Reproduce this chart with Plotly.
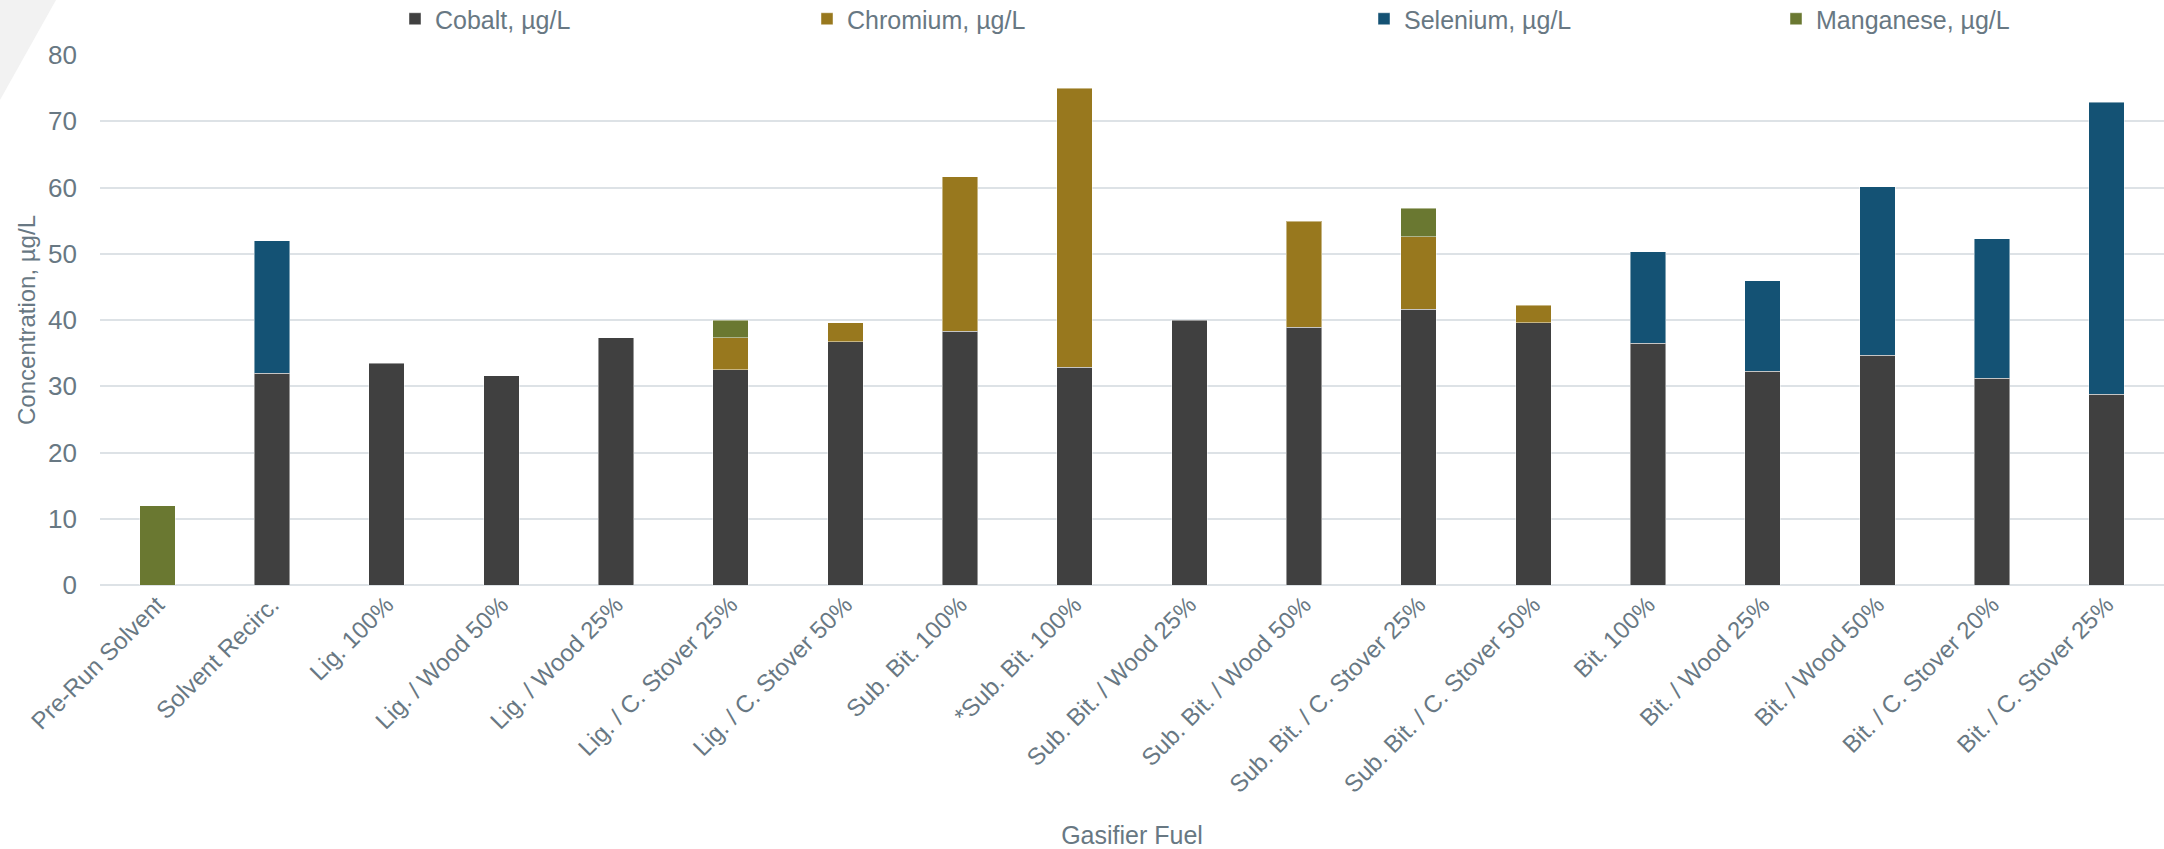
import plotly.graph_objects as go

categories = ["Pre-Run Solvent", "Solvent Recirc.", "Lig. 100%", "Lig. / Wood 50%", "Lig. / Wood 25%",
              "Lig. / C. Stover 25%", "Lig. / C. Stover 50%", "Sub. Bit. 100%", "*Sub. Bit. 100%",
              "Sub. Bit. / Wood 25%", "Sub. Bit. / Wood 50%", "Sub. Bit. / C. Stover 25%",
              "Sub. Bit. / C. Stover 50%", "Bit. 100%", "Bit. / Wood 25%", "Bit. / Wood 50%",
              "Bit. / C. Stover 20%", "Bit. / C. Stover 25%"]

cobalt = [None, 32.0, 33.5, 31.6, 37.3, 32.5, 36.7, 38.3, 32.9, 40.0, 38.9, 41.6, 39.6, 36.5, 32.3, 34.7, 31.2, 28.8]
chromium = [None, None, None, None, None, 4.8, 2.9, 23.3, 42.1, None, 16.0, 11.0, 2.6, None, None, None, None, None]
selenium = [None, 20.0, None, None, None, None, None, None, None, None, None, None, None, 13.8, 13.6, 25.4, 21.1, 44.1]
manganese = [12.0, None, None, None, None, 2.7, None, None, None, None, None, 4.3, None, None, None, None, None, None]

series = [
    ("Cobalt, µg/L", cobalt, "#404040", "legend"),
    ("Chromium, µg/L", chromium, "#98781E", "legend"),
    ("Selenium, µg/L", selenium, "#145274", "legend2"),
    ("Manganese, µg/L", manganese, "#6A7831", "legend2"),
]

TXT = "#687883"
FONT = "Liberation Sans, Arial, sans-serif"

fig = go.Figure()
for name, vals, col, lg in series:
    fig.add_trace(go.Bar(
        name=name, x=categories, y=vals, legend=lg,
        marker=dict(color=col, line=dict(color="rgba(255,255,255,0.45)", width=1)),
    ))

W, H = 2164, 849
ML, MR, MT, MB = 100, 0, 55, 264
pw = W - ML - MR
ph = H - MT - MB

def px_x(px):
    return (px - ML) / pw

def px_y(py):
    return (H - MB - py) / ph

fig.add_shape(
    type="path",
    xref="paper", yref="paper",
    path=f"M {px_x(0)} {px_y(0)} L {px_x(56)} {px_y(0)} L {px_x(0)} {px_y(100)} Z",
    fillcolor="#F2F2F2", line=dict(width=0), layer="below",
)

legend_common = dict(
    orientation="h", xanchor="left", xref="container",
    yref="container", y=1 - 19 / H, yanchor="middle",
    entrywidth=367, entrywidthmode="pixels",
    font=dict(size=25, color=TXT, family=FONT),
    traceorder="normal", bgcolor="rgba(0,0,0,0)",
)

fig.update_layout(
    width=W, height=H,
    margin=dict(l=ML, r=MR, t=MT, b=MB, autoexpand=False),
    paper_bgcolor="white", plot_bgcolor="white",
    barmode="stack", bargap=0.69,
    font=dict(family=FONT, color=TXT, size=22),
    showlegend=True,
    legend=dict(x=395 / W, **legend_common),
    legend2=dict(x=1364 / W, **legend_common),
    xaxis=dict(
        tickangle=-45, tickfont=dict(size=24, color=TXT),
        showgrid=False, showline=False, ticks="",
        title=dict(text="Gasifier Fuel", font=dict(size=25, color=TXT), standoff=47),
        automargin=False,
    ),
    yaxis=dict(
        range=[0, 80], dtick=10, tick0=0,
        showgrid=True, gridcolor="#DDE2E6", gridwidth=2,
        zeroline=True, zerolinecolor="#DDE2E6", zerolinewidth=2,
        tickfont=dict(size=26, color=TXT), ticks="", ticklabelstandoff=22,
        title=dict(text="Concentration, µg/L", font=dict(size=24, color=TXT), standoff=5),
        automargin=False,
    ),
)

fig.write_html("out.html")
